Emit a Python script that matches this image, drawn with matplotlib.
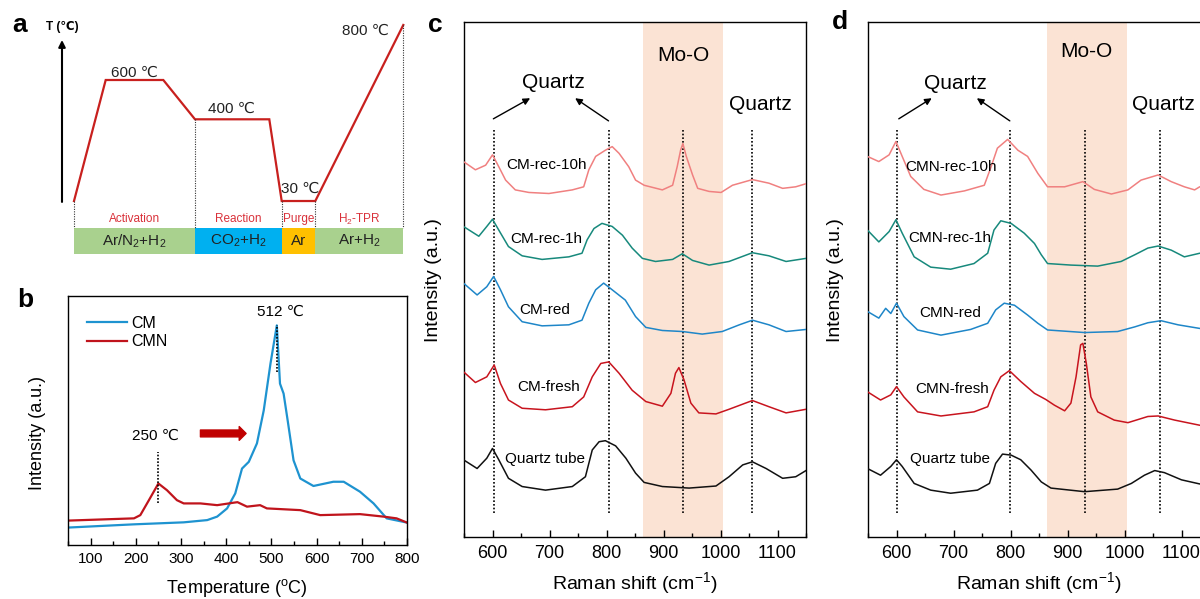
import numpy as np
import matplotlib
matplotlib.use("Agg")
import matplotlib.pyplot as plt
from matplotlib.patches import Rectangle
from matplotlib.ticker import MultipleLocator
from matplotlib.transforms import blended_transform_factory

plt.rcParams["font.family"] = ["Liberation Sans", "DejaVu Sans"]
plt.rcParams["mathtext.fontset"] = "custom"
plt.rcParams["mathtext.rm"] = "Liberation Sans"
plt.rcParams["mathtext.it"] = "Liberation Sans:italic"
plt.rcParams["mathtext.default"] = "regular"

# ---------------- data ----------------
# (a) temperature programme
prog_time = [0, 31.7, 89.3, 121, 195.3, 207.7, 241.3, 329.3]
prog_temp = [30, 600, 600, 400, 400, 30, 30, 800]
stage_edges = [0, 121, 207.7, 241.3, 329.3]
stage_names = ["Activation", "Reaction", "Purge", "H$_2$-TPR"]
stage_gases = ["Ar/N$_2$+H$_2$", "CO$_2$+H$_2$", "Ar", "Ar+H$_2$"]
stage_colors = ["#a9d18e", "#00b0f0", "#ffc000", "#a9d18e"]
plateau_temps = [600, 400, 30, 800]

# (b) H2-TPR
tpr_cm_T = [50, 196, 306, 358, 380, 402, 420, 435, 450, 468, 483, 498, 512,
            519, 527, 536, 549, 564, 593, 637, 660, 696, 726, 755, 800]
tpr_cm_I = [7.0, 8.3, 9.1, 10.0, 11.4, 14.7, 20.7, 30.7, 33.4, 40.8, 54.0,
            72.9, 88.2, 64.8, 60.8, 50.0, 34.0, 26.7, 23.7, 25.4, 25.4, 21.4,
            16.7, 10.7, 9.0]
tpr_cmn_T = [50, 196, 210, 229, 250, 269, 291, 306, 343, 380, 417, 425, 446,
             475, 490, 564, 608, 696, 748, 777, 800]
tpr_cmn_I = [9.8, 10.7, 12.0, 18.0, 24.7, 22.0, 18.0, 16.7, 16.7, 16.0, 17.0,
             17.2, 15.4, 16.0, 14.7, 14.0, 12.0, 12.4, 11.4, 10.7, 9.0]
tpr_peaks = [250, 512]

# (c) Raman, CM series
c_rec10h_x = [549, 570, 588, 600, 611, 623, 640, 664, 699, 740, 760, 769, 781,
              798, 810, 822, 839, 851, 866, 898, 916, 924, 930, 934, 940, 951,
              960, 980, 1001, 1021, 1056, 1085, 1109, 1132, 1150]
c_rec10h_y = [72.9, 71.3, 72.2, 74.2, 71.9, 69.3, 67.4, 66.9, 66.7, 67.4,
              68.0, 71.3, 73.9, 75.1, 75.8, 74.5, 71.9, 69.3, 68.3, 67.4, 68.3,
              71.9, 75.1, 76.4, 73.9, 70.3, 67.7, 67.1, 66.9, 68.3, 69.4, 68.7,
              67.7, 68.0, 68.6]
c_rec1h_x = [549, 576, 590, 600, 611, 628, 652, 687, 734, 757, 766, 778, 792,
             810, 828, 845, 863, 886, 916, 933, 951, 980, 1015, 1056, 1085,
             1115, 1150]
c_rec1h_y = [60.3, 58.4, 60.3, 61.7, 59.6, 56.4, 54.6, 53.9, 54.4, 55.1, 57.7,
             59.9, 60.9, 60.3, 58.6, 56.1, 54.1, 53.5, 53.9, 55.0, 53.7, 52.8,
             53.5, 55.2, 54.6, 53.5, 54.1]
c_red_x = [549, 573, 590, 602, 614, 628, 652, 687, 734, 757, 769, 781, 795,
           810, 833, 851, 869, 898, 933, 968, 1003, 1033, 1056, 1085, 1115,
           1150]
c_red_y = [49.3, 47.0, 48.6, 50.6, 48.0, 44.7, 41.8, 41.0, 41.2, 42.1, 45.4,
           48.0, 49.3, 48.0, 46.0, 42.8, 40.7, 40.1, 39.9, 39.4, 39.9, 41.2,
           42.1, 41.2, 39.9, 40.3]
c_fresh_x = [549, 570, 590, 603, 614, 628, 652, 693, 740, 760, 775, 790, 804,
             822, 845, 869, 898, 913, 921, 927, 936, 948, 962, 992, 1015, 1056,
             1085, 1115, 1150]
c_fresh_y = [32.1, 30.0, 31.1, 33.4, 29.8, 26.6, 25.0, 24.7, 25.3, 27.2, 31.1,
             33.7, 34.0, 31.8, 28.5, 26.3, 25.4, 27.9, 31.8, 32.9, 30.5, 26.0,
             24.1, 23.9, 24.8, 26.5, 25.3, 24.1, 24.8]
c_tube_x = [549, 573, 590, 600, 611, 628, 652, 693, 740, 763, 775, 787, 798,
            816, 834, 851, 866, 898, 945, 992, 1015, 1039, 1056, 1080, 1109,
            1132, 1150]
c_tube_y = [15.0, 13.3, 15.3, 17.2, 15.0, 11.4, 9.8, 9.1, 9.8, 11.7, 16.9,
            18.5, 18.7, 17.7, 15.3, 12.4, 10.6, 9.8, 9.5, 9.9, 11.7, 14.0,
            14.6, 13.3, 11.4, 11.7, 12.9]
c_bands = [603, 805, 935, 1056]

# (d) Raman, CMN series
d_rec10h_x = [549, 569, 587, 599, 610, 625, 648, 678, 719, 754, 766, 777, 795,
              813, 830, 848, 865, 895, 927, 947, 977, 1006, 1029, 1059, 1082,
              1105, 1123, 1132, 1150]
d_rec10h_y = [73.9, 72.9, 74.2, 76.8, 73.9, 70.0, 67.5, 66.4, 67.2, 68.3,
              71.9, 75.5, 77.2, 75.1, 73.9, 70.6, 68.0, 68.0, 69.0, 67.5, 66.6,
              67.4, 69.3, 70.3, 69.0, 68.0, 67.4, 68.0, 68.0]
d_rec1h_x = [549, 569, 587, 599, 610, 631, 660, 695, 736, 760, 771, 783, 801,
             824, 842, 854, 865, 906, 953, 994, 1018, 1041, 1059, 1082, 1105,
             1132, 1150]
d_rec1h_y = [59.6, 57.3, 59.3, 61.6, 59.0, 54.4, 52.4, 52.0, 53.1, 55.1, 59.6,
             61.4, 60.9, 59.0, 57.0, 54.8, 53.1, 52.8, 52.6, 53.5, 54.8, 56.1,
             56.5, 55.7, 54.4, 55.1, 55.0]
d_red_x = [549, 569, 581, 590, 600, 613, 637, 678, 730, 760, 774, 789, 807,
           830, 848, 865, 930, 988, 1018, 1041, 1064, 1094, 1132, 1150]
d_red_y = [43.8, 42.5, 44.4, 43.4, 45.4, 42.8, 40.2, 39.2, 40.3, 41.5, 44.1,
           45.4, 45.0, 43.1, 41.5, 40.2, 39.7, 39.9, 40.8, 41.6, 42.0, 41.2,
           40.5, 40.4]
d_fresh_x = [549, 572, 590, 600, 613, 637, 678, 736, 760, 771, 783, 798, 818,
             842, 862, 877, 895, 906, 915, 923, 927, 933, 941, 953, 982, 1006,
             1041, 1059, 1088, 1132, 1150]
d_fresh_y = [28.2, 26.6, 27.6, 29.2, 27.2, 24.3, 23.5, 24.3, 25.3, 28.5, 31.1,
             32.3, 30.2, 27.9, 26.7, 25.6, 24.5, 26.0, 31.1, 37.3, 37.6, 33.7,
             27.2, 24.3, 22.7, 22.2, 23.4, 23.5, 22.7, 21.7, 21.6]
d_tube_x = [549, 572, 590, 600, 610, 631, 660, 695, 742, 763, 774, 786, 801,
            818, 836, 854, 871, 930, 988, 1012, 1035, 1053, 1070, 1100, 1132,
            1150]
d_tube_y = [13.3, 12.0, 13.7, 15.0, 13.7, 10.4, 9.1, 8.5, 9.1, 10.4, 14.3,
            16.1, 15.9, 15.0, 13.0, 10.7, 9.5, 8.8, 9.3, 10.4, 12.0, 12.9,
            12.5, 11.1, 10.3, 10.5]
d_bands = [601, 799, 930, 1062]

moo_band = (864, 1004)

# ---------------- figure ----------------
W, H = 1200, 599
fig = plt.figure(figsize=(W / 100, H / 100), dpi=100)


def px_axes(left, top, right, bottom):
    return fig.add_axes([left / W, 1 - bottom / H, (right - left) / W,
                         (bottom - top) / H])


def fig_text(px, py, s, **kw):
    fig.text(px / W, 1 - py / H, s, **kw)


def style_frame(ax, lw=1.0):
    for sp in ax.spines.values():
        sp.set_linewidth(lw)
    ax.tick_params(axis="x", which="both", direction="in", top=False, width=1.0)
    ax.tick_params(axis="x", which="major", length=5)
    ax.tick_params(axis="x", which="minor", length=3)
    ax.set_yticks([])


# ---- (a) schematic of the temperature programme ----
ax_a = px_axes(55, 15, 410, 260)
lev = [-2000, 30, 400, 600, 800, 5000]
hgt = [-464.1, 0, 81.7, 121, 176, 1136.1]


def _fwd(t):
    return np.interp(t, lev, hgt)


def _inv(h):
    return np.interp(h, hgt, lev)


ax_a.set_yscale("function", functions=(_fwd, _inv))
ax_a.set_xlim(-19, 336)
ax_a.set_ylim(-228, 843.7)
ax_a.axis("off")
tr_a = blended_transform_factory(ax_a.transData, ax_a.transAxes)

ax_a.plot(prog_time, prog_temp, color="#c8201e", lw=1.6, solid_joinstyle="miter")

bar_lo, bar_hi = 0.0245, 0.1306
h0, h1 = _fwd(-228), _fwd(843.7)
bar_top_T = _inv(h0 + bar_hi * (h1 - h0))
for x0, x1, name, gas, col in zip(stage_edges[:-1], stage_edges[1:],
                                   stage_names, stage_gases, stage_colors):
    ax_a.add_patch(Rectangle((x0, bar_lo), x1 - x0, bar_hi - bar_lo,
                             transform=tr_a, facecolor=col, edgecolor="none"))
    xc = (x0 + x1) / 2
    ax_a.text(xc, 0.167, name, transform=tr_a, ha="center", va="center",
              fontsize=8.5, color="#d9313a")
    ax_a.text(xc, (bar_lo + bar_hi) / 2, gas, transform=tr_a, ha="center",
              va="center", fontsize=11, color="#222222")
edge_temps = np.interp(stage_edges, prog_time, prog_temp)
for xe, te in zip(stage_edges, edge_temps):
    ax_a.plot([xe, xe], [te, bar_top_T], ls=(0, (1, 1.2)), color="#333333",
              lw=0.8)

temp_label_pos = [(60.5, 3), (157.7, 6), (226, 8), (291, -10)]
for tval, (tx, dy) in zip(plateau_temps, temp_label_pos):
    ax_a.annotate(f"{tval} ℃", xy=(tx, tval), xytext=(0, dy),
                  textcoords="offset pixels", ha="center", va="baseline",
                  fontsize=11, color="#222222")

ax_a.annotate("", xy=(-12, 0.898), xytext=(-12, 0.237), xycoords=tr_a,
              arrowprops=dict(arrowstyle="-|>", lw=1.5, color="black",
                              mutation_scale=10, shrinkA=0, shrinkB=0))
ax_a.text(-12, 0.951, "T (℃)", transform=tr_a, ha="center", va="center",
          fontsize=8.5, fontweight="bold")

# ---- (b) H2-TPR profiles ----
ax_b = px_axes(68, 296, 407, 545)
ax_b.plot(tpr_cm_T, tpr_cm_I, color="#1e93d0", lw=1.6, label="CM")
ax_b.plot(tpr_cmn_T, tpr_cmn_I, color="#c0141c", lw=1.6, label="CMN")
ax_b.set_xlim(50, 800)
ax_b.set_ylim(0, 100)
ax_b.xaxis.set_major_locator(MultipleLocator(100))
ax_b.xaxis.set_minor_locator(MultipleLocator(50))
style_frame(ax_b)
ax_b.tick_params(axis="x", labelsize=11, pad=5)
ax_b.plot([512, 512], [69.5, 88.2], ls=(0, (1, 1)), color="black", lw=1.2)
ax_b.plot([250, 250], [16.7, 37.4], ls=(0, (1, 1)), color="black", lw=1.2)
ax_b.text(520, 93.6, f"{tpr_peaks[1]} ℃", ha="center", va="center", fontsize=11)
ax_b.text(243.6, 44.0, f"{tpr_peaks[0]} ℃", ha="center", va="center", fontsize=11)
ax_b.annotate("", xy=(444, 44.8), xytext=(343, 44.8),
              arrowprops=dict(arrowstyle="simple,head_length=0.45,head_width=0.9,tail_width=0.45",
                              color="#c00000", mutation_scale=11,
                              shrinkA=0, shrinkB=0))
ax_b.legend(loc="upper left", bbox_to_anchor=(0.055, 0.92), frameon=False,
            handlelength=2.5, handletextpad=0.3, labelspacing=0.2,
            borderaxespad=0, borderpad=0, fontsize=11.5)

# ---- (c), (d) Raman spectra ----


def raman_panel(left, series, labels, bands, label_y, quartz_pos,
                arrows, mo_pos):
    ax = px_axes(left, 22, left + 342, 537)
    ax.axvspan(*moo_band, color="#fbe3d4", lw=0, zorder=0)
    colors = ["#f08080", "#17897c", "#1e86c8", "#c8141e", "#111111"]
    for (xs, ys), col in zip(series, colors):
        ax.plot(xs, ys, color=col, lw=1.1, zorder=3)
    for b in bands:
        ax.plot([b, b], [4.7, 79.4], ls=(0, (1, 1.2)), color="black", lw=1.2,
                zorder=2)
    for lab, (lx, ly) in zip(labels, label_y):
        ax.text(lx, ly, lab, ha="center", va="center", fontsize=11, zorder=4)
    ax.text(quartz_pos[0][0], quartz_pos[0][1], "Quartz", ha="center",
            va="center", fontsize=15)
    ax.text(quartz_pos[1][0], quartz_pos[1][1], "Quartz", ha="center",
            va="center", fontsize=15)
    ax.text(mo_pos[0], mo_pos[1], "Mo-O", ha="center", va="center", fontsize=15)
    for tail, head in arrows:
        ax.annotate("", xy=head, xytext=tail,
                    arrowprops=dict(arrowstyle="-|>", lw=1.0, color="black",
                                    mutation_scale=10, shrinkA=0, shrinkB=0))
    ax.set_xlim(550, 1150)
    ax.set_ylim(0, 100)
    ax.xaxis.set_major_locator(MultipleLocator(100))
    ax.xaxis.set_minor_locator(MultipleLocator(50))
    style_frame(ax)
    ax.tick_params(axis="x", labelsize=13, pad=6)
    return ax


ax_c = raman_panel(
    464,
    [(c_rec10h_x, c_rec10h_y), (c_rec1h_x, c_rec1h_y), (c_red_x, c_red_y),
     (c_fresh_x, c_fresh_y), (c_tube_x, c_tube_y)],
    ["CM-rec-10h", "CM-rec-1h", "CM-red", "CM-fresh", "Quartz tube"],
    c_bands,
    [(695, 72.2), (695, 57.8), (692, 44.1), (698, 29.2), (692, 15.1)],
    [(706, 88.2), (1070, 83.9)],
    [((601.5, 81.2), (666, 85.2)), ((803.6, 80.8), (745, 85.2))],
    (935, 93.4),
)

ax_d = raman_panel(
    868,
    [(d_rec10h_x, d_rec10h_y), (d_rec1h_x, d_rec1h_y), (d_red_x, d_red_y),
     (d_fresh_x, d_fresh_y), (d_tube_x, d_tube_y)],
    ["CMN-rec-10h", "CMN-rec-1h", "CMN-red", "CMN-fresh", "Quartz tube"],
    d_bands,
    [(695, 71.9), (694, 58.0), (694, 43.4), (697, 28.7), (694, 15.1)],
    [(703, 88.1), (1067.6, 83.9)],
    [((604, 81.2), (661.8, 85.2)), ((798.8, 80.8), (741, 85.2))],
    (933.5, 94.2),
)

# axis titles
fig_text(37, 433, "Intensity (a.u.)", rotation=90, ha="center", va="center",
         fontsize=13)
fig_text(237, 588, "Temperature ($^{o}$C)", ha="center", va="center",
         fontsize=13)
for xc, yl in [(635, 433), (1039, 835)]:
    fig_text(xc, 583, "Raman shift (cm$^{-1}$)", ha="center", va="center",
             fontsize=14)
    fig_text(yl, 280, "Intensity (a.u.)", rotation=90, ha="center",
             va="center", fontsize=14)

# panel letters
for lx, ly, s in [(20, 25, "a"), (25, 300, "b"), (435, 25, "c"), (840, 22, "d")]:
    fig_text(lx, ly, s, ha="center", va="center", fontsize=19,
             fontweight="bold")

fig.savefig("out.png", dpi=100)
